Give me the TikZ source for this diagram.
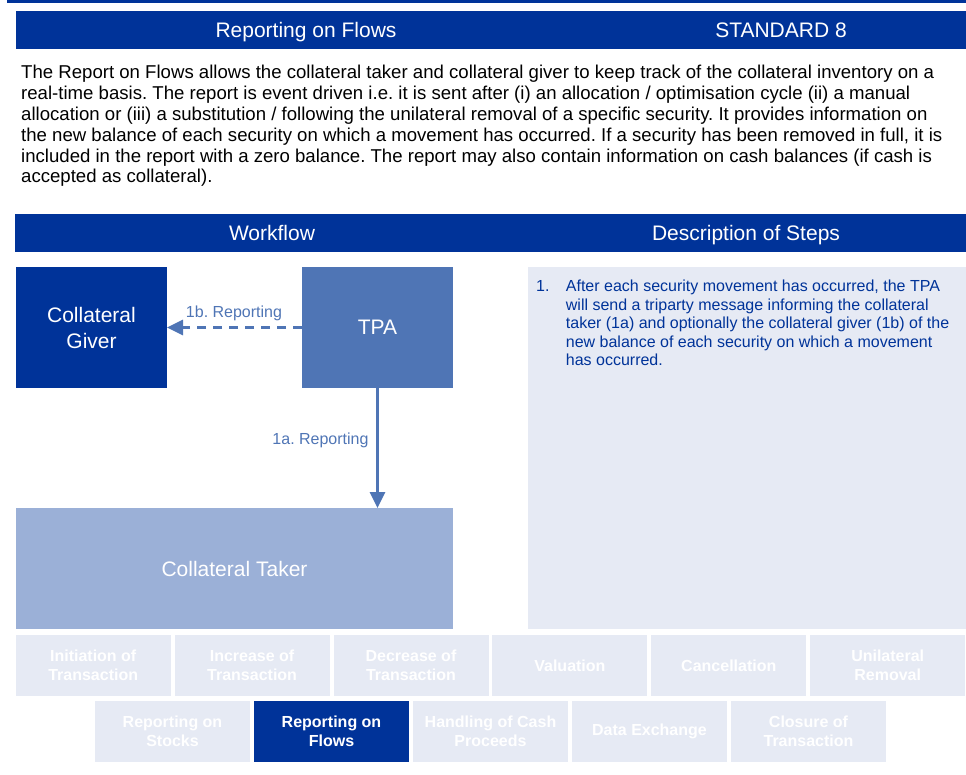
\documentclass[tikz,border=0pt]{standalone}
\usepackage{fontspec}
\setmainfont{Liberation Sans}
\usetikzlibrary{arrows.meta}
\definecolor{dkblue}{RGB}{0,51,153}
\definecolor{midblue}{RGB}{79,117,181}
\definecolor{ltblue}{RGB}{155,176,215}
\definecolor{paleblue}{RGB}{230,234,244}
\newcommand\myfs[2]{\fontsize{#1}{#2}\selectfont}
\frenchspacing
\begin{document}
\begin{tikzpicture}[x=1pt,y=-1pt,
  box/.style={draw=none,inner sep=0pt,outer sep=0pt,align=center,anchor=north west},
  bigtext/.style={text=white,font=\myfs{21}{26}},
  bartext/.style={text=white,font=\myfs{21}{24},inner sep=0pt,anchor=base},
  lbl/.style={text=midblue,font=\myfs{16}{19},inner sep=0pt,anchor=base},
  tab/.style={box,fill=paleblue,text=white,minimum width=155,minimum height=61,font=\bfseries\myfs{16}{19.3}},
  seltab/.style={tab,fill=dkblue},
  flow/.style={draw=midblue,line width=3pt,-{Triangle[length=16pt,width=15pt]}}
]
\useasboundingbox (0,0) rectangle (966,775);
% top rule
\fill[dkblue] (7,0) rectangle (966,3);
% header bar
\node[box,fill=dkblue,minimum width=950,minimum height=38] (hdr) at (16,11) {};
\node[bartext] (hdrtitle) at (306,37.5) {Reporting on Flows};
\node[bartext] (hdrstd) at (781,37.5) {STANDARD 8};
% paragraph (anchor = baseline of last line)
\node[anchor=base west,align=left,inner sep=0pt,font=\myfs{18.6}{20.8}] (para) at (21,183)
{The Report on Flows allows the collateral taker and collateral giver to keep track of the collateral inventory on a\\
real-time basis. The report is event driven i.e. it is sent after (i) an allocation / optimisation cycle (ii) a manual\\
allocation or (iii) a substitution / following the unilateral removal of a specific security. It provides information on\\
the new balance of each security on which a movement has occurred. If a security has been removed in full, it is\\
included in the report with a zero balance. The report may also contain information on cash balances (if cash is\\
accepted as collateral).};
% section bar
\node[box,fill=dkblue,minimum width=951,minimum height=38] (secbar) at (15,214) {};
\node[bartext] (wf) at (272,240.5) {Workflow};
\node[bartext] (ds) at (746,240.5) {Description of Steps};
% boxes
\node[box,fill=dkblue,minimum width=151,minimum height=121,bigtext] (giver) at (16,267) {Collateral\\Giver};
\node[box,fill=midblue,minimum width=151,minimum height=121,bigtext] (tpa) at (302,267) {TPA};
\node[box,fill=ltblue,minimum width=437,minimum height=121,bigtext] (taker) at (16,508) {Collateral Taker};
\node[box,fill=paleblue,minimum width=438,minimum height=362] (desc) at (528,267) {};
% connectors
\draw[flow,dash pattern=on 9pt off 7pt] (tpa.west) -- (giver.east);
\draw[flow] (tpa.south) -- (tpa.south |- taker.north);
\node[lbl] (l1b) at (234,317.7) {1b. Reporting};
\node[lbl] (l1a) at (320.5,444.7) {1a. Reporting};
% description text
\node[anchor=base west,inner sep=0pt,text=dkblue,font=\myfs{16}{18.6}] (num) at (536,291.5) {1.};
\node[anchor=base west,align=left,inner sep=0pt,text=dkblue,font=\myfs{16}{18.6}] (desctext) at (565.7,365.9)
{After each security movement has occurred, the TPA\\
will send a triparty message informing the collateral\\
taker (1a) and optionally the collateral giver (1b) of the\\
new balance of each security on which a movement\\
has occurred.};
% tabs row 1
\foreach \i/\txt in {1/{Initiation of\\Transaction},2/{Increase of\\Transaction},3/{Decrease of\\Transaction},4/{Valuation},5/{Cancellation},6/{Unilateral\\Removal}}
  \node[tab] (r\i) at ({15.7+(\i-1)*158.9},635) {\txt};
% tabs row 2
\node[tab] (s1) at (95,701) {Reporting on\\Stocks};
\node[seltab] (s2) at (254,701) {Reporting on\\Flows};
\node[tab] (s3) at (413,701) {Handling of Cash\\Proceeds};
\node[tab] (s4) at (572,701) {Data Exchange};
\node[tab] (s5) at (731,701) {Closure of\\Transaction};
\end{tikzpicture}
\end{document}
